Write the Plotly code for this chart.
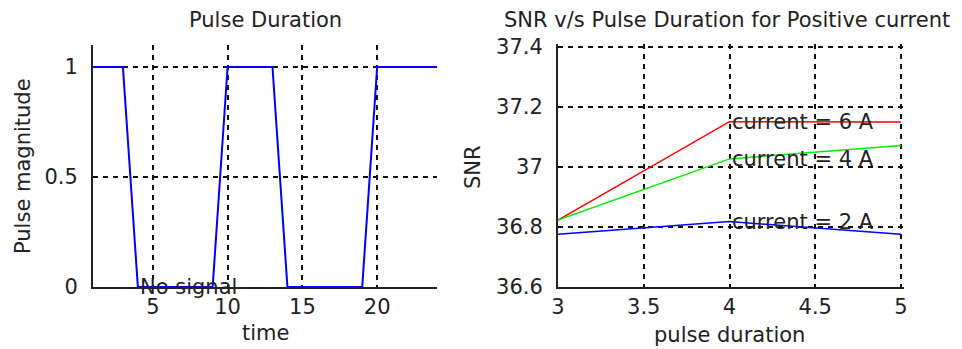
import plotly.graph_objects as go

# ---- data ----
time = [1, 3, 4, 9, 10, 13, 14, 19, 20, 24]
magnitude = [1, 1, 0, 0, 1, 1, 0, 0, 1, 1]
time_ticks = [5, 10, 15, 20]
mag_ticks = [0, 0.5, 1]

pulse_duration = [3, 4, 5]
snr_6A = [36.823, 37.151, 37.150]
snr_4A = [36.823, 37.027, 37.072]
snr_2A = [36.776, 36.818, 36.776]
dur_ticks = [3, 3.5, 4, 4.5, 5]
snr_ticks = [36.6, 36.8, 37.0, 37.2, 37.4]
snr_tick_text = ["36.6", "36.8", "37", "37.2", "37.4"]

# page body has an 8px margin; figure fills the rest of the 962x349 window
OFF = 8
W, H = 962 - OFF, 349 - OFF
FONT = "DejaVu Sans"
FS = 21

def px(x):
    return (x - OFF) / W

def py(y):
    return 1 - (y - OFF) / H

fig = go.Figure()

fig.add_trace(go.Scatter(x=time, y=magnitude, mode="lines",
                         line=dict(color="#0000ff", width=2),
                         xaxis="x", yaxis="y", showlegend=False))
for vals, col in [(snr_6A, "#ff0000"), (snr_4A, "#00ee00"), (snr_2A, "#0000ff")]:
    fig.add_trace(go.Scatter(x=pulse_duration, y=vals, mode="lines",
                             line=dict(color=col, width=1.5),
                             xaxis="x2", yaxis="y2", showlegend=False))

grid = dict(showgrid=True, gridcolor="#111111", gridwidth=1.8, griddash="5px,5px",
            zeroline=False, showline=True, linecolor="#222222", linewidth=2,
            ticks="", automargin=False,
            tickfont=dict(family=FONT, size=FS, color="#222222"))

# right panel: 3 px of slack beyond the last grid line so it is drawn (dashed border look)
X2_PX = (901 - 558) / 2.0      # px per unit of pulse duration
Y2_PX = (287 - 47) / 0.8       # px per unit of SNR
SLACK = 3

fig.update_layout(
    template="none",
    width=W, height=H, margin=dict(l=0, r=0, t=0, b=0, pad=0, autoexpand=False),
    paper_bgcolor="white", plot_bgcolor="white",
    font=dict(family=FONT, size=FS, color="#222222"),
    xaxis=dict(domain=[px(93), px(437)], range=[1, 24], tickvals=time_ticks,
               anchor="y", ticklabelstandoff=0, **grid),
    yaxis=dict(domain=[py(287), py(45)], range=[0, 1.1], tickvals=mag_ticks,
               ticktext=["0", "0.5", "1"], anchor="x", ticklabelstandoff=9, **grid),
    xaxis2=dict(domain=[px(558), px(901 + SLACK)],
                range=[3, 5 + SLACK / X2_PX], tickvals=dur_ticks,
                ticktext=["3", "3.5", "4", "4.5", "5"], anchor="y2",
                ticklabelstandoff=0, **grid),
    yaxis2=dict(domain=[py(287), py(47 - SLACK)],
                range=[36.6, 37.4 + SLACK / Y2_PX], tickvals=snr_ticks,
                ticktext=snr_tick_text, anchor="x2", ticklabelstandoff=9, **grid),
)

ann = []
def note(text, x, y, **kw):
    d = dict(text=text, x=x, y=y, xref="paper", yref="paper", showarrow=False,
             font=dict(family=FONT, size=FS, color="#222222"),
             xanchor="center", yanchor="middle")
    d.update(kw)
    ann.append(d)

note("Pulse Duration", px(265), py(20))
note("SNR v/s Pulse Duration for Positive current", px(727), py(20))
note("Pulse magnitude", px(23), py(166), textangle=-90)
note("time", px(265), py(333))
note("SNR", px(473), py(167), textangle=-90)
note("pulse duration", px(729), py(335))

# in-plot text labels in data coordinates
ann.append(dict(text="No signal", x=time[2], y=magnitude[2], xref="x", yref="y",
                showarrow=False, xanchor="left", yanchor="middle",
                font=dict(family=FONT, size=FS, color="#222222")))
for vals, lab in [(snr_6A, "current = 6 A"), (snr_4A, "current = 4 A"), (snr_2A, "current = 2 A")]:
    ann.append(dict(text=lab, x=pulse_duration[1], y=vals[1], xref="x2", yref="y2",
                    showarrow=False, xanchor="left", yanchor="middle",
                    font=dict(family=FONT, size=FS, color="#222222")))

fig.update_layout(annotations=ann)
fig.write_html("out.html")
